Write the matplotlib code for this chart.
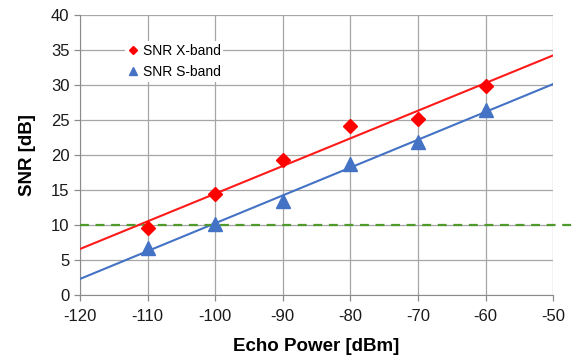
import numpy as np
import matplotlib
matplotlib.use("Agg")
import matplotlib.pyplot as plt

plt.rcParams['font.family'] = ['Liberation Sans', 'DejaVu Sans']
plt.rcParams['axes.unicode_minus'] = False

# echo power [dBm] and measured SNR [dB]
power = [-110, -100, -90, -80, -70, -60]
snr_x = [9.6, 14.4, 19.3, 24.1, 25.2, 29.8]
snr_s = [6.7, 10.1, 13.5, 18.7, 21.9, 26.4]
threshold = 10

fig = plt.figure(figsize=(5.75, 3.63), dpi=100)
ax = fig.add_axes([0.139, 0.187, 0.823, 0.772])

# linear trend lines over the full axis range
xfit = np.array([-120, -50])
for y, col in [(snr_x, '#ff1a1a'), (snr_s, '#4472c4')]:
    k, b = np.polyfit(power, y, 1)
    ax.plot(xfit, k * xfit + b, color=col, lw=1.5, zorder=3)

ax.plot(power, snr_x, 'D', color='#ff0000', ms=7, mec='#ff0000', zorder=4,
        label='SNR X-band')
ax.plot(power, snr_s, '^', color='#4472c4', ms=9.5, mec='#4472c4', zorder=4,
        label='SNR S-band')

# threshold line runs past the right spine
ax.plot([-120, -46.6], [threshold, threshold], color='#4e9a2a', lw=1.6,
        ls=(0, (4, 3)), clip_on=False, zorder=3)

ax.set_xlim(-120, -50)
ax.set_ylim(0, 40)
ax.set_xticks(range(-120, -49, 10))
ax.set_yticks(range(0, 41, 5))
ax.grid(True, color='#a6a6a6', lw=0.9)
ax.set_axisbelow(True)
for s in ['top', 'right']:
    ax.spines[s].set_visible(False)
for s in ['left', 'bottom']:
    ax.spines[s].set_color('#8c8c8c')
ax.tick_params(colors='#8c8c8c', labelcolor='#1a1a1a', labelsize=12,
               length=4, width=0.9)
ax.tick_params(axis='x', pad=6)

ax.set_xlabel('Echo Power [dBm]', fontsize=13.5, fontweight='bold', labelpad=10)
ax.set_ylabel('SNR [dB]', fontsize=13.5, fontweight='bold', labelpad=11)

leg = ax.legend(loc='upper left', bbox_to_anchor=(0.08, 0.93), frameon=True,
                fontsize=10, handlelength=0.8, handletextpad=0.3,
                borderpad=0.2, labelspacing=0.5, markerscale=0.6)
leg.get_frame().set_edgecolor('none')
leg.get_frame().set_facecolor('white')
leg.get_frame().set_alpha(1)

fig.savefig('out.png', dpi=100)
